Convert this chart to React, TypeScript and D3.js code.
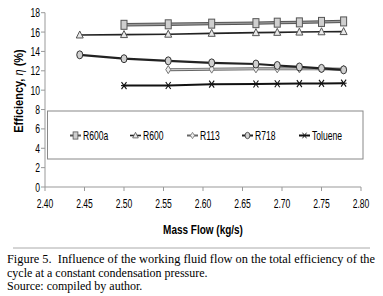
import React from "react";
import * as d3 from "d3";

const massFlow = [2.444, 2.5, 2.556, 2.611, 2.667, 2.694, 2.722, 2.75, 2.778];
const r600a = [null, 16.75, 16.8, 16.87, 16.92, 16.97, 17.0, 17.05, 17.1];
const r600 = [15.7, 15.74, 15.78, 15.87, 15.94, 15.97, 16.0, 16.03, 16.05];
const r113 = [null, null, 12.12, 12.17, 12.2, 12.2, 12.2, 12.2, 12.15];
const r718 = [13.65, 13.25, 13.03, 12.82, 12.7, 12.55, 12.4, 12.25, 12.1];
const toluene = [null, 10.47, 10.48, 10.62, 10.64, 10.66, 10.68, 10.7, 10.72];
const xTicks = [2.4, 2.45, 2.5, 2.55, 2.6, 2.65, 2.7, 2.75, 2.8];
const yTicks = [0, 2, 4, 6, 8, 10, 12, 14, 16, 18];
const seriesNames = ["R600a", "R600", "R113", "R718", "Toluene"];

const W = 383, H = 296;
const x = d3.scaleLinear().domain([2.4, 2.8]).range([45, 361]);
const y = d3.scaleLinear().domain([0, 18]).range([187, 12.7]);

const SX = 0.66;
const font = "'Liberation Sans', Arial, sans-serif";

function NText({ x0, y0, anchor = "start", size = 13, bold = false, sx = SX, children }: any) {
  return (
    <g transform={`translate(${x0},${y0}) scale(${sx},1)`}>
      <text x={0} y={0} textAnchor={anchor} fontSize={size} fontFamily={font} fontWeight={bold ? "bold" : "normal"} fill="#000">
        {children}
      </text>
    </g>
  );
}

function Marker({ kind, cx, cy, s = 1 }: any) {
  let el: any;
  if (kind === "R600a")
    el = <rect x={-3} y={-4.5} width={6} height={9} fill="#cfcfcf" stroke="#555" strokeWidth={1} />;
  else if (kind === "R600")
    el = <path d="M0,-4L3.5,3L-3.5,3Z" fill="#e8e8e8" stroke="#555" strokeWidth={1} />;
  else if (kind === "R113")
    el = <path d="M0,-4L2.5,0L0,4L-2.5,0Z" fill="#eee" stroke="#777" strokeWidth={1} />;
  else if (kind === "R718")
    el = <ellipse cx={0} cy={0} rx={3} ry={4} fill="#d0d0d0" stroke="#333" strokeWidth={1} />;
  else
    el = (
      <g stroke="#111" strokeWidth={1.1}>
        <line x1={-2.5} y1={-3.5} x2={2.5} y2={3.5} />
        <line x1={2.5} y1={-3.5} x2={-2.5} y2={3.5} />
        <line x1={-3} y1={0} x2={3} y2={0} />
      </g>
    );
  return <g transform={`translate(${cx},${cy}) scale(${s})`}>{el}</g>;
}

const styles: Record<string, { outer: string; ow: number; inner?: string; iw?: number }> = {
  R600a: { outer: "#555", ow: 3.4, inner: "#9a9a9a", iw: 1.4 },
  R600: { outer: "#222", ow: 1.6 },
  R113: { outer: "#666", ow: 3, inner: "#c8c8c8", iw: 1.2 },
  R718: { outer: "#222", ow: 2.2 },
  Toluene: { outer: "#111", ow: 2 },
};

export default function App() {
  const data: Record<string, (number | null)[]> = {
    R600a: r600a,
    R600: r600,
    R113: r113,
    R718: r718,
    Toluene: toluene,
  };
  const order = ["R113", "R718", "Toluene", "R600", "R600a"];
  const lineGen = d3
    .line<[number, number | null]>()
    .defined((d) => d[1] !== null)
    .x((d) => x(d[0]))
    .y((d) => y(d[1] as number));

  const legendX = [70, 130, 187, 242, 299];
  const legendY = 135.5;

  return (
    <svg width={W} height={H} style={{ position: "absolute", left: 0, top: 0, background: "#fff" }}>
      <rect width={W} height={H} fill="#fff" />
      <line x1={45} y1={y(18)} x2={45} y2={y(0)} stroke="#999" strokeWidth={1} />
      <line x1={45} y1={y(0)} x2={361} y2={y(0)} stroke="#999" strokeWidth={1} />
      {yTicks.map((t) => (
        <g key={"y" + t}>
          <line x1={41} x2={45} y1={y(t)} y2={y(t)} stroke="#999" />
          <NText x0={40} y0={y(t) + 4.5} anchor="end" size={13}>
            {String(t)}
          </NText>
        </g>
      ))}
      {xTicks.map((t) => (
        <g key={"x" + t}>
          <line x1={x(t)} x2={x(t)} y1={y(0)} y2={y(0) + 4} stroke="#999" />
          <NText x0={x(t)} y0={207.5} anchor="middle" size={13}>
            {t.toFixed(2)}
          </NText>
        </g>
      ))}
      <g transform={`translate(23,91) rotate(-90) scale(0.88,1)`}>
        <text x={0} y={0} textAnchor="middle" fontSize={12.5} fontWeight="bold" fontFamily={font}>
          Efficiency, <tspan fontStyle="italic" fontWeight="normal">η</tspan> (%)
        </text>
      </g>
      <NText x0={203} y0={234} anchor="middle" size={12.5} bold sx={0.8}>
        Mass Flow (kg/s)
      </NText>

      {order.map((k) => {
        const pts: [number, number | null][] = massFlow.map((m, i) => [m, data[k][i]]);
        const d = lineGen(pts) || "";
        const st = styles[k];
        return (
          <g key={k}>
            <path d={d} stroke={st.outer} strokeWidth={st.ow} fill="none" />
            {st.inner && <path d={d} stroke={st.inner} strokeWidth={st.iw} fill="none" />}
            {pts
              .filter((p) => p[1] !== null)
              .map((p, i) => (
                <Marker key={i} kind={k} cx={x(p[0])} cy={y(p[1] as number)} />
              ))}
          </g>
        );
      })}

      <rect x={47.5} y={111} width={315.5} height={48} fill="#fff" stroke="#888" strokeWidth={1} />
      {seriesNames.map((k, i) => {
        const lx = legendX[i];
        const st = styles[k];
        return (
          <g key={"lg" + k}>
            <line x1={lx} x2={lx + 11} y1={legendY} y2={legendY} stroke={st.outer} strokeWidth={Math.min(st.ow, 2)} />
            <Marker kind={k} cx={lx + 5.5} cy={legendY} s={0.8} />
            <NText x0={lx + 13} y0={legendY + 4.5} size={13}>
              {k}
            </NText>
          </g>
        );
      })}

      <line x1={13} x2={370} y1={248} y2={248} stroke="#aaa" strokeWidth={1} />
      <text x={7} y={263} fontSize={12} fontFamily="'Liberation Serif', 'Times New Roman', serif" fill="#000" textLength={368} lengthAdjust="spacingAndGlyphs">
        Figure 5.{"\u00a0\u00a0"}Influence of the working fluid flow on the total efficiency of the
      </text>
      <text x={7} y={276.5} fontSize={12} fontFamily="'Liberation Serif', 'Times New Roman', serif" fill="#000">
        cycle at a constant condensation pressure.
      </text>
      <text x={7} y={290} fontSize={12} fontFamily="'Liberation Serif', 'Times New Roman', serif" fill="#000">
        Source: compiled by author.
      </text>
    </svg>
  );
}
